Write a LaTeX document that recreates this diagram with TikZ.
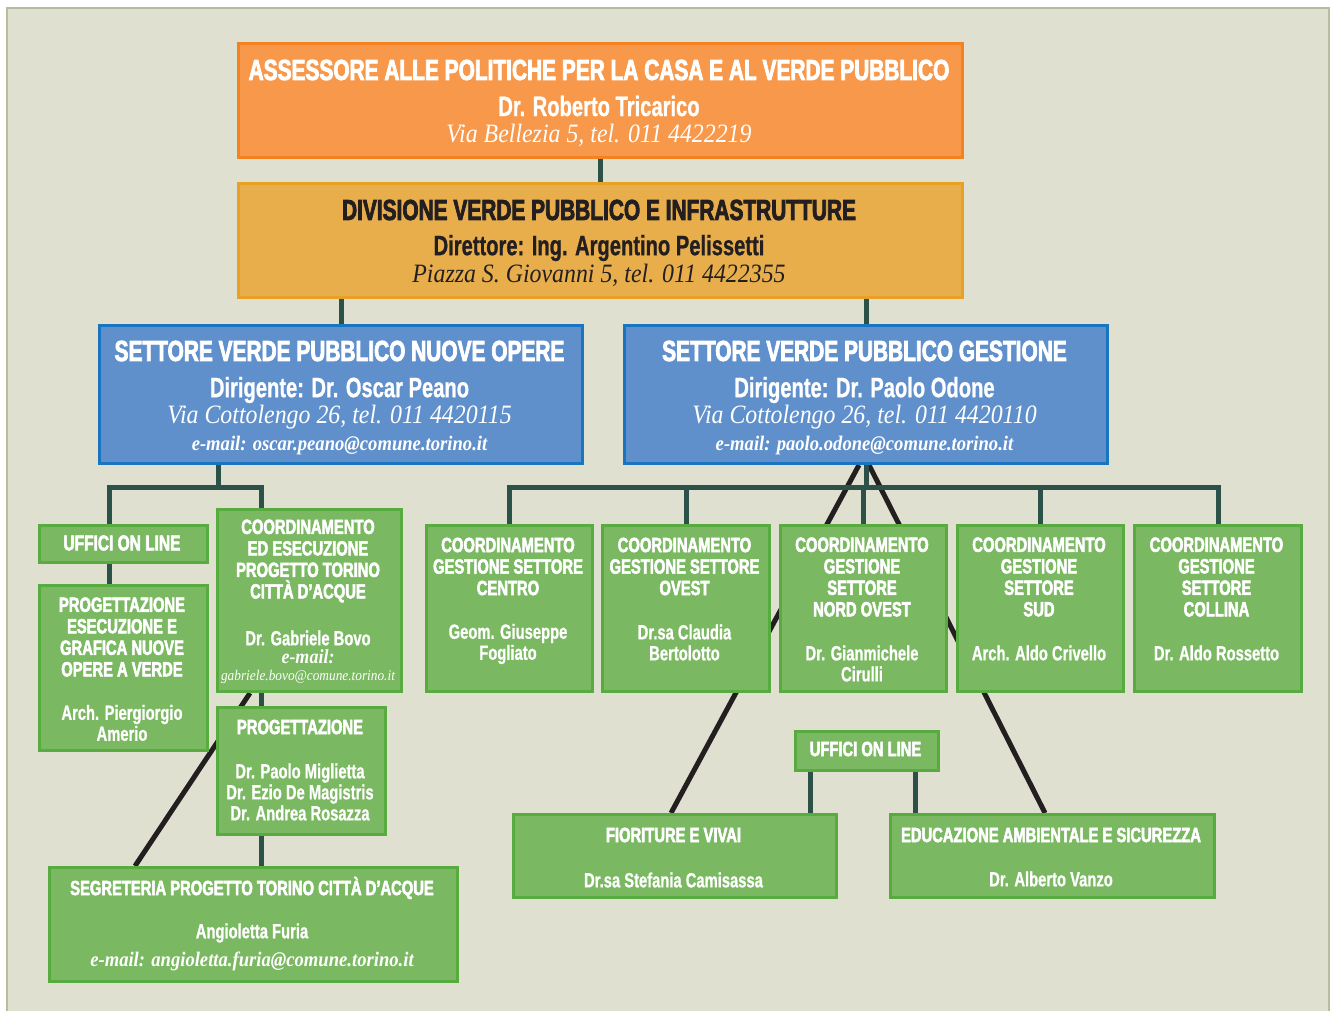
\documentclass[tikz,border=0pt]{standalone}
\usepackage{fontspec}
\newfontfamily\cndR{Liberation Sans}[FakeStretch=0.72,FakeBold=0.8]
\newfontfamily\cndH{Liberation Sans}[FakeStretch=0.72,FakeBold=2.6]
\newfontfamily\serI{Liberation Serif}[FakeStretch=0.9]
\definecolor{bgc}{HTML}{DFE0D0}
\definecolor{framec}{HTML}{B8BC9E}
\definecolor{orfill}{HTML}{F8984A}
\definecolor{orline}{HTML}{F5821F}
\definecolor{gofill}{HTML}{E8AE4B}
\definecolor{goline}{HTML}{E8A025}
\definecolor{blfill}{HTML}{6090CC}
\definecolor{blline}{HTML}{1A75C0}
\definecolor{grfill}{HTML}{7AB861}
\definecolor{grline}{HTML}{58AB3E}
\definecolor{connc}{HTML}{2B5148}
\definecolor{darkt}{HTML}{231F20}
\pgfdeclarelayer{bglayer}
\pgfdeclarelayer{lineslayer}
\pgfsetlayers{bglayer,lineslayer,main}
\begin{document}
\begin{tikzpicture}[x=1pt,y=-1pt,
  box/.style={rectangle,line width=3pt,inner sep=0pt,anchor=north west},
  obox/.style={box,fill=orfill,draw=orline},
  ybox/.style={box,fill=gofill,draw=goline},
  bbox/.style={box,fill=blfill,draw=blline},
  gbox/.style={box,fill=grfill,draw=grline},
  conn/.style={draw=connc,line width=5pt,line join=miter},
  blk/.style={draw=darkt,line width=5pt},
  bighd/.style={font={\cndH\bfseries\fontsize{29}{30}\selectfont},text=white,inner sep=0pt},
  bignm/.style={font={\cndR\bfseries\fontsize{28}{30}\selectfont},text=white,inner sep=0pt},
  bigit/.style={font={\serI\itshape\fontsize{26.5}{28}\selectfont},text=white,inner sep=0pt},
  mail/.style={font={\serI\bfseries\itshape\fontsize{20.7}{22}\selectfont},text=white,inner sep=0pt},
  hd/.style={font={\cndH\bfseries\fontsize{20.5}{21.5}\selectfont},text=white,align=center,inner sep=0pt},
  nm/.style={font={\cndR\bfseries\fontsize{20.5}{21}\selectfont},text=white,align=center,inner sep=0pt}
]
\useasboundingbox (0,0) rectangle (1334,1010);
\clip (0,0) rectangle (1334,1010);
\begin{pgfonlayer}{bglayer}
\fill[white] (0,0) rectangle (1334,1010);
\draw[framec,fill=bgc,line width=2pt] (7,8) rectangle (1329,1030);
\end{pgfonlayer}

% boxes
\node[obox,minimum width=724pt,minimum height=114pt] (A) at (237,42) {};
\node[ybox,minimum width=724pt,minimum height=114pt] (D) at (237,182) {};
\node[bbox,minimum width=483pt,minimum height=138pt] (S1) at (98,324) {};
\node[bbox,minimum width=483pt,minimum height=138pt] (S2) at (623,324) {};
\node[gbox,minimum width=168pt,minimum height=37pt] (U1) at (38,524) {};
\node[gbox,minimum width=168pt,minimum height=165pt] (P1) at (38,584) {};
\node[gbox,minimum width=184pt,minimum height=182pt] (C1) at (216,508) {};
\node[gbox,minimum width=168pt,minimum height=127pt] (P2) at (216,706) {};
\node[gbox,minimum width=408pt,minimum height=114pt] (SG) at (48,866) {};
\node[gbox,minimum width=166pt,minimum height=166pt] (G1) at (425,524) {};
\node[gbox,minimum width=167pt,minimum height=166pt] (G2) at (601,524) {};
\node[gbox,minimum width=166pt,minimum height=166pt] (G3) at (779,524) {};
\node[gbox,minimum width=166pt,minimum height=166pt] (G4) at (956,524) {};
\node[gbox,minimum width=167pt,minimum height=166pt] (G5) at (1133,524) {};
\node[gbox,minimum width=143pt,minimum height=39pt] (U2) at (794,730) {};
\node[gbox,minimum width=323pt,minimum height=83pt] (F) at (512,813) {};
\node[gbox,minimum width=324pt,minimum height=83pt] (E) at (889,813) {};

% junction coordinates
\coordinate (jL) at (218,487);
\coordinate (xL1) at (109,487);
\coordinate (xL2) at (261,487);
\coordinate (jR) at (864,487);
\coordinate (bk1) at (250,690);
\coordinate (bk2) at (135,866);
\coordinate (bk3) at (859,462);
\coordinate (bk4) at (671,813);
\coordinate (bk5) at (869,462);
\coordinate (bk6) at (1045,813);
\coordinate (xu1) at (810,769);
\coordinate (xu2) at (915,769);

\begin{pgfonlayer}{lineslayer}
\draw[blk] (C1.south -| bk1) -- (SG.north -| bk2);
\draw[blk] (S2.south -| bk3) -- (F.north -| bk4);
\draw[blk] (S2.south -| bk5) -- (E.north -| bk6);
\draw[conn] (A.south) -- (D.north);
\draw[conn] (S1.north) -- (S1.north |- D.south);
\draw[conn] (S2.north) -- (S2.north |- D.south);
\draw[conn] (S1.south -| jL) -- (jL);
\draw[conn] (U1.north -| xL1) |- (xL2) -- (C1.north -| xL2);
\draw[conn] (U1.south -| xL1) -- (P1.north -| xL1);
\draw[conn] (C1.south -| xL2) -- (P2.north -| xL2);
\draw[conn] (P2.south -| xL2) -- (SG.north -| xL2);
\draw[conn] (S2.south) -- (S2.south |- jR);
\draw[conn] (G1.north) |- (jR) -| (G5.north);
\draw[conn] (G2.north) -- (G2.north |- jR);
\draw[conn] (G3.north) -- (G3.north |- jR);
\draw[conn] (G4.north) -- (G4.north |- jR);
\draw[conn] (U2.south -| xu1) -- (F.north -| xu1);
\draw[conn] (U2.south -| xu2) -- (E.north -| xu2);
\end{pgfonlayer}

% texts: assessore
\node[bighd] (tA1) at (599,70) {ASSESSORE ALLE POLITICHE PER LA CASA E AL VERDE PUBBLICO};
\node[bignm] (tA2) at (599,106) {Dr. Roberto Tricarico};
\node[bigit] (tA3) at (599,135) {Via Bellezia 5, tel. 011 4422219};
% divisione
\node[bighd,text=darkt] (tD1) at (599,210) {DIVISIONE VERDE PUBBLICO E INFRASTRUTTURE};
\node[bignm,text=darkt] (tD2) at (599,248) {Direttore: Ing. Argentino Pelissetti};
\node[bigit,text=darkt] (tD3) at (599,275) {Piazza S. Giovanni 5, tel. 011 4422355};
% settori
\node[bighd] (tS11) at (339.5,351) {SETTORE VERDE PUBBLICO NUOVE OPERE};
\node[bignm] (tS12) at (339.5,390) {Dirigente: Dr. Oscar Peano};
\node[bigit] (tS13) at (339.5,417) {Via Cottolengo 26, tel. 011 4420115};
\node[mail] (tS14) at (339.5,446) {e-mail: oscar.peano@comune.torino.it};
\node[bighd] (tS21) at (864.5,351) {SETTORE VERDE PUBBLICO GESTIONE};
\node[bignm] (tS22) at (864.5,390) {Dirigente: Dr. Paolo Odone};
\node[bigit] (tS23) at (864.5,417) {Via Cottolengo 26, tel. 011 4420110};
\node[mail] (tS24) at (864.5,446) {e-mail: paolo.odone@comune.torino.it};
% left branch
\node[hd,font={\cndH\bfseries\fontsize{21.5}{22}\selectfont}] (tU1) at (122,543) {UFFICI ON LINE};
\node[hd] (tP11) at (122,637) {PROGETTAZIONE\\ESECUZIONE E\\GRAFICA NUOVE\\OPERE A VERDE};
\node[nm] (tP12) at (122,723) {Arch. Piergiorgio\\Amerio};
\node[hd] (tC11) at (308,561) {COORDINAMENTO\\ED ESECUZIONE\\PROGETTO TORINO\\CITTÀ D’ACQUE};
\node[nm] (tC12) at (308,638) {Dr. Gabriele Bovo};
\node[mail,font={\serI\bfseries\itshape\fontsize{20}{21}\selectfont}] (tC13) at (308,657) {e-mail:};
\node[mail,font={\serI\itshape\fontsize{14.8}{16}\selectfont}] (tC14) at (308,677) {gabriele.bovo@comune.torino.it};
\node[hd] (tP21) at (300,727) {PROGETTAZIONE};
\node[nm] (tP22) at (300,792) {Dr. Paolo Miglietta\\Dr. Ezio De Magistris\\Dr. Andrea Rosazza};
\node[hd] (tSG1) at (252,888) {SEGRETERIA PROGETTO TORINO CITTÀ D’ACQUE};
\node[nm] (tSG2) at (252,933) {Angioletta Furia};
\node[mail] (tSG3) at (252,961) {e-mail: angioletta.furia@comune.torino.it};
% right branch
\node[hd] (tG11) at (508,566.5) {COORDINAMENTO\\GESTIONE SETTORE\\CENTRO};
\node[nm] (tG12) at (508,644) {Geom. Giuseppe\\Fogliato};
\node[hd] (tG21) at (684.5,566.5) {COORDINAMENTO\\GESTIONE SETTORE\\OVEST};
\node[nm] (tG22) at (684.5,642.5) {Dr.sa Claudia\\Bertolotto};
\node[hd] (tG31) at (862,577) {COORDINAMENTO\\GESTIONE\\SETTORE\\NORD OVEST};
\node[nm] (tG32) at (862,663.5) {Dr. Gianmichele\\Cirulli};
\node[hd] (tG41) at (1039,577) {COORDINAMENTO\\GESTIONE\\SETTORE\\SUD};
\node[nm] (tG42) at (1039,653) {Arch. Aldo Crivello};
\node[hd] (tG51) at (1216.5,577) {COORDINAMENTO\\GESTIONE\\SETTORE\\COLLINA};
\node[nm] (tG52) at (1216.5,653) {Dr. Aldo Rossetto};
\node[hd] (tU2) at (865.5,749) {UFFICI ON LINE};
\node[hd] (tF1) at (673.5,835) {FIORITURE E VIVAI};
\node[nm] (tF2) at (673.5,880) {Dr.sa Stefania Camisassa};
\node[hd] (tE1) at (1051,835) {EDUCAZIONE AMBIENTALE E SICUREZZA};
\node[nm] (tE2) at (1051,879) {Dr. Alberto Vanzo};
\end{tikzpicture}
\end{document}
